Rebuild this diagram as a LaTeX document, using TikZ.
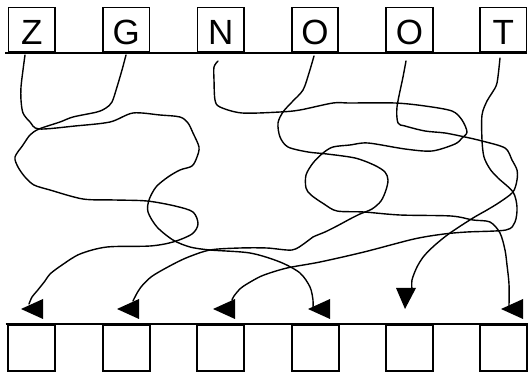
\documentclass[tikz,border=0pt]{standalone}
\usepackage{fontspec}
\setmainfont{Liberation Sans}
\begin{document}
\begin{tikzpicture}[x=1pt,y=-1pt,
  tbox/.style={draw, line width=1.8pt, minimum width=46.5pt, minimum height=44.5pt, inner sep=0pt},
  bbox/.style={draw, line width=1.8pt, minimum width=47pt, minimum height=46pt, inner sep=0pt},
  letter/.style={font=\fontsize{35}{35}\selectfont, inner sep=0pt},
  wire/.style={line width=1.4pt, line join=round, line cap=round},
  rule/.style={line width=1.8pt}]
\useasboundingbox (0,0) rectangle (528,374);
% top boxes
\foreach \i/\c/\t in {1/31.75/Z,2/126.2/G,3/220.65/N,4/315.1/O,5/409.55/O,6/503.3/T}{
  \node[tbox] (t\i) at (\c,29.75) {};
  \node[letter] (l\i) at ([yshift=-2.75pt]t\i.center) {\t};
}
\draw[rule] ([xshift=-2.5pt]t1.south west) -- (t6.south east);
% bottom boxes
\foreach \i/\c in {1/31.4,2/126.2,3/220.65,4/315.1,5/409.55,6/503.2}{
  \node[bbox] (b\i) at (\c,348) {};
}
\draw[rule] ([xshift=-1.5pt]b1.north west) -- (b6.north east);
% start and end points
\coordinate (s1) at (25,55);
\coordinate (s2) at (126,55);
\coordinate (s3) at (218,61);
\coordinate (s4) at (314,56);
\coordinate (s5) at (406,61);
\coordinate (s6) at (500,58);
\coordinate (a1) at (21,309);
\coordinate (a2) at (117,309);
\coordinate (a3) at (213,309);
\coordinate (a4) at (308,309);
\coordinate (a5) at (405,309);
\coordinate (a6) at (501,309);
% Z -> box 4
\draw[wire] plot[smooth, tension=0.5] coordinates {(s1) (23,70) (21,87) (21,100) (23,113) (30,122) (39,129)
  (75,126) (110,122) (133,113) (160,115) (180,117) (188,123) (193,133) (199,147) (197,157) (192,166)
  (180,170) (168,177) (156,187) (149,200) (148,212) (157,227) (173,240) (190,247) (210,250) (250,253)
  (280,262) (300,273) (310,287) (313,300) (313,307)};
% G -> box 1
\draw[wire] plot[smooth, tension=0.5] coordinates {(s2) (122,70) (117,87) (112,102) (106,108) (97,112)
  (73,117) (60,122) (39,129) (30,135) (23,145) (15,157) (18,167) (25,177) (34,185) (50,190) (83,199)
  (115,200) (147,201) (175,206) (193,212) (198,224) (192,234) (173,242) (150,246) (107,247) (80,254)
  (62,265) (50,274) (45,281) (37,291) (32,297) (29,304)};
% N -> box 6
\draw[wire] plot[smooth, tension=0.5] coordinates {(s3) (214,67) (214,80) (215,100) (220,107) (242,113)
  (280,112) (300,110) (333,103) (350,103) (395,103) (425,106) (452,111) (462,120) (467,132) (462,138)
  (455,144) (432,151) (405,149) (368,143) (350,145) (333,147) (323,153) (313,163) (306,175) (306,188)
  (311,195) (324,204) (337,211) (364,212) (400,215) (451,216) (473,220) (490,222) (500,233) (505,250)
  (507,265) (509,284) (509,306)};
% O -> box 2
\draw[wire] plot[smooth, tension=0.5] coordinates {(s4) (309,73) (303,90) (292,102) (283,112) (278,123)
  (280,137) (288,147) (308,152) (327,154) (355,158) (374,165) (385,172) (388,180) (386,190) (381,201)
  (372,209) (360,214) (350,219) (337,226) (325,232) (313,237) (305,243) (292,250) (267,248) (240,248)
  (210,250) (186,258) (166,268) (151,277) (141,287) (136,295) (133,301)};
% O -> box 5
\draw[wire] plot[smooth, tension=0.5] coordinates {(s5) (403,77) (397,107) (398,123) (405,126) (425,131)
  (445,133) (465,137) (482,141) (505,148) (512,160) (517,170) (517,180) (513,192) (500,202) (487,210)
  (473,218) (450,233) (435,245) (424,256) (417,267) (412,280) (412,290)};
% T -> box 3
\draw[wire] plot[smooth, tension=0.5] coordinates {(s6) (497,83) (492,93) (487,101) (482,115) (482,140)
  (484,157) (490,169) (498,178) (513,192) (517,207) (515,222) (506,230) (467,232) (444,234) (414,239)
  (364,252) (320,262) (287,268) (264,275) (252,281) (241,288) (234,296) (232,300)};
% arrowheads
\foreach \a in {a1,a2,a3,a4,a6}{
  \fill (\a) -- ++(22,-10) -- ++(0,20) -- cycle;
}
\fill (a5) -- ++(-9,-21) -- ++(20,0) -- cycle;
\end{tikzpicture}
\end{document}
